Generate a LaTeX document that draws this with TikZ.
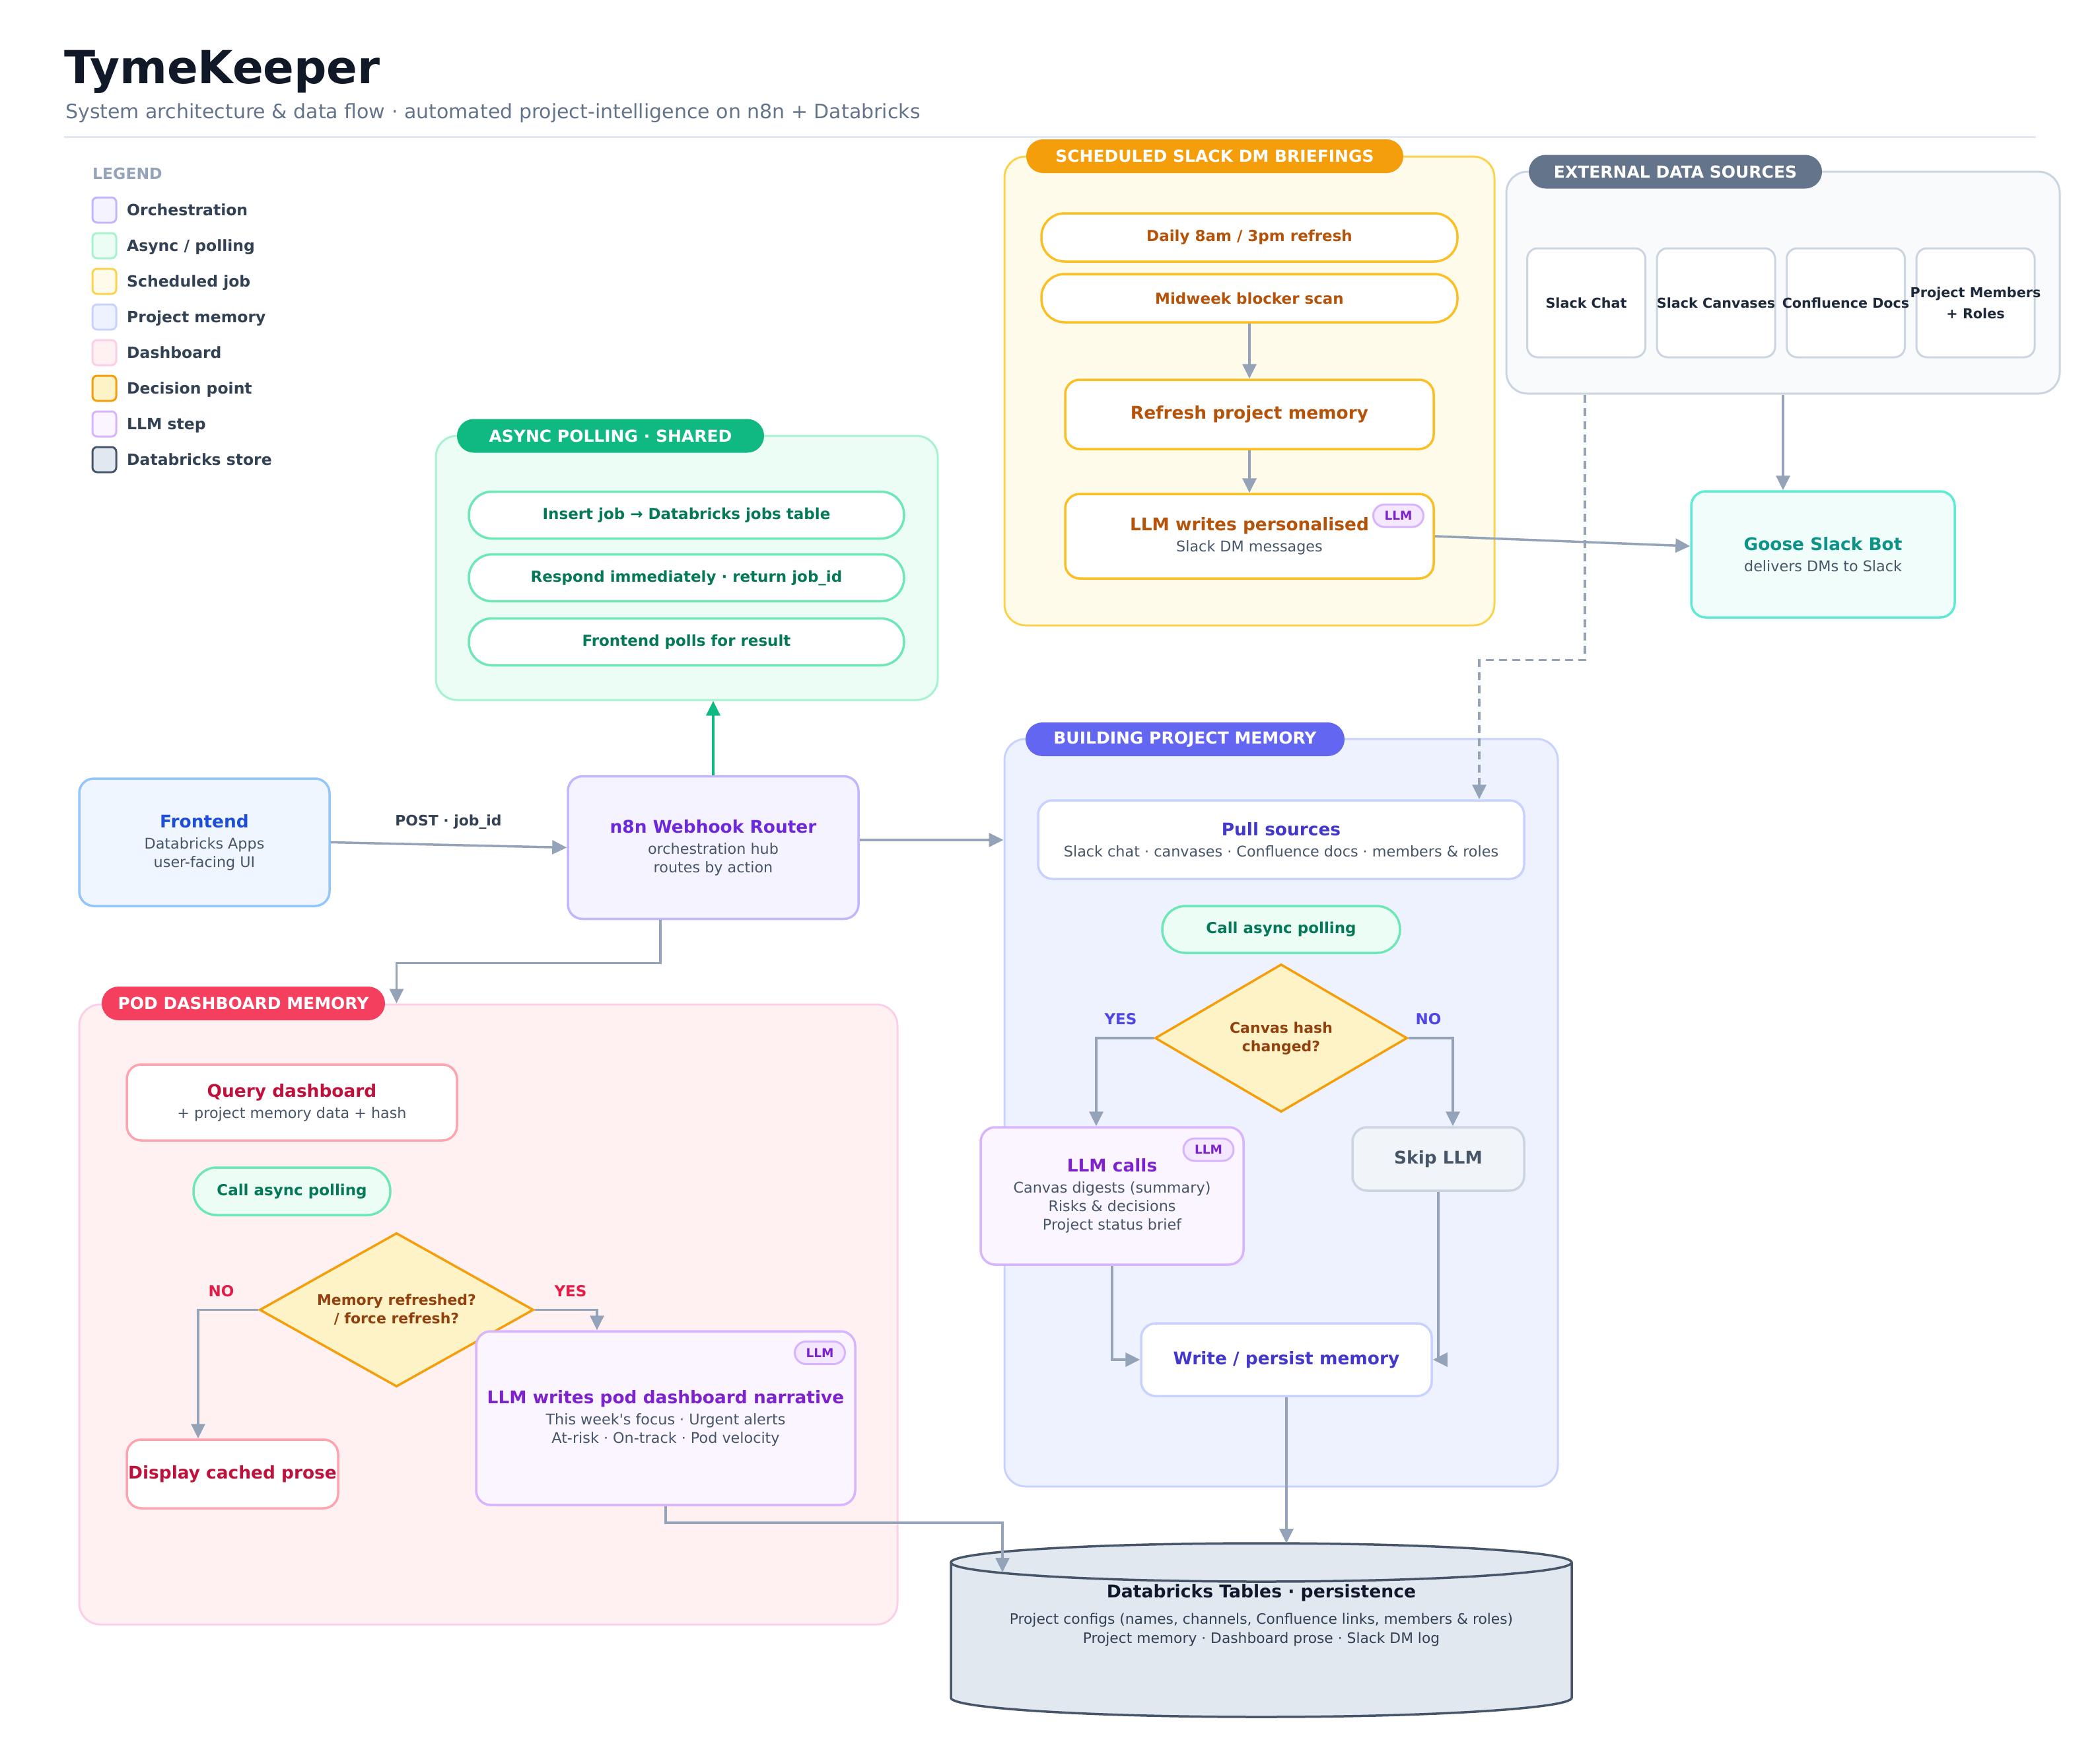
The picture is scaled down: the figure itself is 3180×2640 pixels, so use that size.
\documentclass[tikz,border=0pt]{standalone}
\usepackage{fontspec}
\setmainfont{DejaVu Sans}
\usepackage{xcolor}
\usetikzlibrary{arrows.meta,shapes.geometric,positioning}

\definecolor{lineGray}{HTML}{94A3B8}
\definecolor{titleInk}{HTML}{111827}
\definecolor{leadGray}{HTML}{64748B}
\definecolor{ruleGray}{HTML}{E2E8F0}
\definecolor{legendInk}{HTML}{334155}
\definecolor{bodyGray}{HTML}{475569}
\definecolor{orchFill}{HTML}{F5F3FF}
\definecolor{orchLine}{HTML}{C4B5FD}
\definecolor{orchText}{HTML}{6D28D9}
\definecolor{feFill}{HTML}{EFF6FF}
\definecolor{feLine}{HTML}{93C5FD}
\definecolor{feText}{HTML}{1D4ED8}
\definecolor{asyncFill}{HTML}{ECFDF5}
\definecolor{asyncLine}{HTML}{A7F3D0}
\definecolor{asyncPill}{HTML}{6EE7B7}
\definecolor{asyncText}{HTML}{047857}
\definecolor{asyncHead}{HTML}{10B981}
\definecolor{schedFill}{HTML}{FEFBEA}
\definecolor{schedLine}{HTML}{FCD34D}
\definecolor{schedBox}{HTML}{FBBF24}
\definecolor{schedText}{HTML}{B45309}
\definecolor{schedHead}{HTML}{F59E0B}
\definecolor{extFill}{HTML}{F8FAFC}
\definecolor{extLine}{HTML}{CBD5E1}
\definecolor{extHead}{HTML}{64748B}
\definecolor{srcText}{HTML}{1E293B}
\definecolor{gooseFill}{HTML}{F0FDFA}
\definecolor{gooseLine}{HTML}{5EEAD4}
\definecolor{gooseText}{HTML}{0D9488}
\definecolor{memFill}{HTML}{EEF2FF}
\definecolor{memLine}{HTML}{C7D2FE}
\definecolor{memText}{HTML}{4338CA}
\definecolor{memHead}{HTML}{6366F1}
\definecolor{memYes}{HTML}{4F46E5}
\definecolor{podFill}{HTML}{FFF1F2}
\definecolor{podLine}{HTML}{FBCFE8}
\definecolor{podBox}{HTML}{FDA4AF}
\definecolor{podText}{HTML}{BE123C}
\definecolor{podHead}{HTML}{F43F5E}
\definecolor{podYes}{HTML}{E11D48}
\definecolor{decFill}{HTML}{FEF3C7}
\definecolor{decLine}{HTML}{F59E0B}
\definecolor{decText}{HTML}{92400E}
\definecolor{llmFill}{HTML}{FAF5FF}
\definecolor{llmLine}{HTML}{D8B4FE}
\definecolor{llmText}{HTML}{7E22CE}
\definecolor{badgeFill}{HTML}{F3E8FF}
\definecolor{skipFill}{HTML}{F1F5F9}
\definecolor{dbFill}{HTML}{E2E8F0}
\definecolor{dbLine}{HTML}{475569}
\definecolor{dbInk}{HTML}{0F172A}

\newcommand{\titlefont}{\fontsize{69}{80}\selectfont\bfseries}
\newcommand{\leadfont}{\fontsize{30}{36}\selectfont}
\newcommand{\hdrfont}{\fontsize{25}{30}\selectfont\bfseries}
\newcommand{\bodyfont}{\fontsize{22.3}{28}\selectfont}
\newcommand{\pillfont}{\fontsize{23}{28}\selectfont\bfseries}
\newcommand{\legfont}{\fontsize{23.5}{28}\selectfont\bfseries}
\newcommand{\srcfont}{\fontsize{20.7}{32}\selectfont\bfseries}
\newcommand{\decfont}{\fontsize{22}{28}\selectfont\bfseries}
\newcommand{\badgefont}{\fontsize{18.5}{22}\selectfont\bfseries}
\newcommand{\cardttl}[1]{{\fontsize{26.4}{30}\selectfont\bfseries #1}}
\newcommand{\cardsub}[1]{{\color{bodyGray}#1}}

\tikzset{
 grp/.style={draw, line width=3pt, rounded corners=32pt, inner sep=0pt},
 hdr/.style={rounded corners=25.5pt, minimum height=51pt, inner sep=0pt,
  text=white, font=\hdrfont},
 card/.style={draw, line width=3.5pt, rounded corners=22pt, inner sep=0pt,
  align=center, font=\bodyfont},
 pill/.style={draw, line width=3.5pt, rounded corners=35pt, inner sep=0pt,
  font=\pillfont},
 badge/.style={draw=llmLine, fill=badgeFill, line width=3pt, rounded corners=17pt,
  minimum width=76pt, minimum height=34pt, inner sep=0pt, text=llmText, font=\badgefont},
 srcbox/.style={draw=extLine, fill=white, line width=3pt, rounded corners=16pt,
  minimum width=179pt, minimum height=165pt, inner ysep=0pt, inner xsep=-12pt,
  align=center, text=srcText, font=\srcfont},
 dec/.style={diamond, draw=decLine, fill=decFill, line width=3.5pt, inner sep=0pt,
  aspect=1.7, align=center, text=decText, font=\decfont},
 lgbox/.style={line width=3pt, rounded corners=7pt, minimum width=36pt,
  minimum height=38pt, inner sep=0pt},
 link/.style={draw=lineGray, line width=3.5pt, -{Triangle[length=22pt,width=21pt]}},
 dashline/.style={dash pattern=on 12pt off 8pt},
 branch/.style={font=\fontsize{23}{28}\selectfont\bfseries},
}

\begin{document}
\begin{tikzpicture}[x=1pt, y=-1pt]
        \useasboundingbox (0,0) rectangle (3180,2640);
        \fill[white] (0,0) rectangle (3180,2640);

        % heading
        \node[anchor=base west, inner sep=0pt, text=titleInk, font=\titlefont] (title) at (97,126) {TymeKeeper};
        \node[anchor=base west, inner sep=0pt, text=leadGray, font=\leadfont] (lead) at (99,179)
            {System architecture \& data flow · automated project-intelligence on n8n + Databricks};
        \draw[ruleGray, line width=3pt] (97,207) -- (3083,207);

        % legend
        \node[anchor=base west, inner sep=0pt, text=lineGray, font=\legfont] (legend) at (140,271) {LEGEND};
        \foreach \lbl/\lf/\ld [count=\i from 0] in {Orchestration/orchFill/orchLine,
            {Async / polling}/asyncFill/asyncLine, Scheduled job/schedFill/schedLine,
            Project memory/memFill/memLine, Dashboard/podFill/podLine,
            Decision point/decFill/decLine, LLM step/llmFill/llmLine,
            Databricks store/dbFill/dbLine}{
            \node[lgbox, fill=\lf, draw=\ld] (lgbox\i) at (158,{318+54*\i}) {};
            \node[anchor=base west, inner sep=0pt, text=legendInk, font=\legfont] (lgtxt\i) at (192,{326.5+54*\i}) {\lbl};
        }

        % groups
        \node[grp, fill=asyncFill, draw=asyncLine, minimum width=760pt, minimum height=400pt] (async) at (1040,860) {};
        \node[hdr, fill=asyncHead, minimum width=465pt] (asynchdr) at (924.5,660) {ASYNC POLLING · SHARED};
        \node[grp, fill=schedFill, draw=schedLine, minimum width=742pt, minimum height=710pt] (sched) at (1892,592) {};
        \node[hdr, fill=schedHead, minimum width=571pt] (schedhdr) at (1839.5,236.5) {SCHEDULED SLACK DM BRIEFINGS};
        \node[grp, fill=extFill, draw=extLine, minimum width=838pt, minimum height=336pt] (ext) at (2700,428) {};
        \node[hdr, fill=extHead, minimum width=444pt] (exthdr) at (2537,260) {EXTERNAL DATA SOURCES};
        \node[grp, fill=memFill, draw=memLine, minimum width=838pt, minimum height=1132pt] (build) at (1940,1685) {};
        \node[hdr, fill=memHead, minimum width=483pt] (buildhdr) at (1794.5,1119.5) {BUILDING PROJECT MEMORY};
        \node[grp, fill=podFill, draw=podLine, minimum width=1239pt, minimum height=939pt] (pod) at (739.5,1990.5) {};
        \node[hdr, fill=podHead, minimum width=429pt] (podhdr) at (368.5,1519.5) {POD DASHBOARD MEMORY};

        % entry
        \node[card, fill=feFill, draw=feLine, text=feText, minimum width=379pt, minimum height=193pt] (frontend) at (309.5,1275.5)
            {\cardttl{Frontend}\\[4pt]\cardsub{Databricks Apps}\\\cardsub{user-facing UI}};
        \node[card, fill=orchFill, draw=orchLine, text=orchText, minimum width=440pt, minimum height=216pt] (router) at (1080,1283.5)
            {\cardttl{n8n Webhook Router}\\[4pt]\cardsub{orchestration hub}\\\cardsub{routes by action}};
        \node[inner sep=0pt, text=legendInk, font=\fontsize{21.9}{26}\selectfont\bfseries] (postlbl) at (679,1245) {POST · job\_id};

        % async polling
        \node[pill, fill=white, draw=asyncPill, text=asyncText, minimum width=659pt, minimum height=71pt] (insjob) at (1039.5,780) {Insert job → Databricks jobs table};
        \node[pill, fill=white, draw=asyncPill, text=asyncText, minimum width=659pt, minimum height=71pt] (respond) at (1039.5,875) {Respond immediately · return job\_id};
        \node[pill, fill=white, draw=asyncPill, text=asyncText, minimum width=659pt, minimum height=71pt] (polls) at (1039.5,972) {Frontend polls for result};

        % scheduled briefings
        \node[pill, fill=white, draw=schedBox, text=schedText, minimum width=630pt, minimum height=73pt] (daily) at (1892,359.5) {Daily 8am / 3pm refresh};
        \node[pill, fill=white, draw=schedBox, text=schedText, minimum width=630pt, minimum height=73pt] (midweek) at (1892,451.5) {Midweek blocker scan};
        \node[card, fill=white, draw=schedBox, text=schedText, minimum width=558pt, minimum height=105pt] (refresh) at (1892,627.5) {\cardttl{Refresh project memory}};
        \node[card, fill=white, draw=schedBox, text=schedText, minimum width=558pt, minimum height=128pt] (llmdm) at (1892,812)
            {\cardttl{LLM writes personalised}\\[4pt]\cardsub{Slack DM messages}};
        \node[badge] (dmbadge) at (2117.5,781) {LLM};

        % external sources
        \foreach \s/\nm [count=\i from 0] in {Slack Chat/chat, Slack Canvases/canv, Confluence Docs/conf, {Project Members\\+ Roles}/memb}{
            \node[srcbox] (\nm) at ({2402+196.5*\i},458.5) {\s};
        }
        \node[card, fill=gooseFill, draw=gooseLine, text=gooseText, minimum width=399pt, minimum height=191pt] (goose) at (2760.5,839.5)
            {\cardttl{Goose Slack Bot}\\[4pt]\cardsub{delivers DMs to Slack}};

        % building project memory
        \node[card, fill=white, draw=memLine, text=memText, minimum width=736pt, minimum height=119pt] (pull) at (1940,1271.5)
            {\cardttl{Pull sources}\\[4pt]\cardsub{Slack chat · canvases · Confluence docs · members \& roles}};
        \node[pill, fill=asyncFill, draw=asyncPill, text=asyncText, minimum width=360pt, minimum height=71pt] (bpoll) at (1940,1407.5) {Call async polling};
        \node[dec, minimum width=382pt, minimum height=224pt] (bdec) at (1940,1572) {Canvas hash\\changed?};
        \node[card, fill=llmFill, draw=llmLine, text=llmText, minimum width=398pt, minimum height=208pt] (llmcalls) at (1684,1811)
            {\cardttl{LLM calls}\\[4pt]\cardsub{Canvas digests (summary)}\\\cardsub{Risks \& decisions}\\\cardsub{Project status brief}};
        \node[badge] (callbadge) at (1830,1741) {LLM};
        \node[card, fill=skipFill, draw=extLine, text=bodyGray, minimum width=260pt, minimum height=96pt] (skip) at (2178,1755) {\cardttl{Skip LLM}};
        \node[card, fill=white, draw=memLine, text=memText, minimum width=440pt, minimum height=110pt] (write) at (1948,2059) {\cardttl{Write / persist memory}};
        \node[branch, text=memYes] (byes) at (1697,1543) {YES};
        \node[branch, text=memYes] (bno) at (2163,1543) {NO};

        % pod dashboard
        \node[card, fill=white, draw=podBox, text=podText, minimum width=500pt, minimum height=115pt] (query) at (442,1669.5)
            {\cardttl{Query dashboard}\\[4pt]\cardsub{+ project memory data + hash}};
        \node[pill, fill=asyncFill, draw=asyncPill, text=asyncText, minimum width=298pt, minimum height=72pt] (ppoll) at (442,1804) {Call async polling};
        \node[dec, minimum width=415pt, minimum height=233pt] (pdec) at (600.5,1983.5) {Memory refreshed?\\/ force refresh?};
        \node[card, fill=white, draw=podBox, text=podText, minimum width=320pt, minimum height=104pt] (display) at (352,2232) {\cardttl{Display cached prose}};
        \node[card, fill=llmFill, draw=llmLine, text=llmText, minimum width=574pt, minimum height=263pt] (llmpod) at (1008,2147.5)
            {\cardttl{LLM writes pod dashboard narrative}\\[4pt]\cardsub{This week\textquotesingle s focus · Urgent alerts}\\\cardsub{At-risk · On-track · Pod velocity}};
        \node[badge] (podbadge) at (1241.5,2048.5) {LLM};
        \node[branch, text=podYes] (pno) at (335,1955) {NO};
        \node[branch, text=podYes] (pyes) at (864,1955) {YES};

        % databricks store
        \filldraw[fill=dbFill, draw=dbLine, line width=3.5pt] (1440,2366) -- (1440,2571)
            arc[start angle=180, end angle=0, x radius=470, y radius=29] -- (2380,2366)
            arc[start angle=0, end angle=-180, x radius=470, y radius=29] -- cycle;
        \draw[dbLine, line width=3.5pt] (1440,2366) arc[start angle=180, end angle=0, x radius=470, y radius=29];
        \coordinate (dbtop) at (1947,2337);
        \coordinate (dbrim) at (1518,2381);
        \node[text=dbInk, font=\fontsize{26.6}{30}\selectfont\bfseries] (dbttl) at (1910,2412) {Databricks Tables · persistence};
        \node[align=center, text=legendInk, font=\fontsize{21.8}{29}\selectfont] (dbsub) at (1910,2467.5)
            {Project configs (names, channels, Confluence links, members \& roles)\\Project memory · Dashboard prose · Slack DM log};

        % connectors
        \draw[link] (frontend.east) -- (router.west);
        \draw[link, draw=asyncHead] (router.north) -- (router.north |- async.south);
        \draw[link] ([yshift=11.5pt]router.east) -- ([yshift=11.5pt]router.east -| build.west);
        \draw[link] ([xshift=-80pt]router.south) |- ([yshift=61pt]pod.north -| pdec.north) -- (pod.north -| pdec.north);
        \draw[link] (midweek.south) -- (refresh.north);
        \draw[link] (refresh.south) -- (llmdm.north);
        \draw[link] (llmdm.east) -- ([yshift=12.5pt]goose.west);
        \draw[link] (ext.south) -- (ext.south |- goose.north);
        \draw[link, dashline] ([xshift=-300pt]ext.south) -- ++(0,402) -| ([xshift=300pt]pull.north);
        \draw[link] (bdec.west) -| ([xshift=-24pt]llmcalls.north);
        \draw[link] (bdec.east) -| ([xshift=22pt]skip.north);
        \draw[link] (llmcalls.south) |- (write.west);
        \draw[link] (skip.south) |- (write.east);
        \draw[link] (write.south) -- (write.south |- dbtop);
        \draw[link] (pdec.west) -| ([xshift=-52pt]display.north);
        \draw[link] (pdec.east) -| ([xshift=-104pt]llmpod.north);
        \draw[link] (llmpod.south) -- ++(0,25) -| (dbrim);
\end{tikzpicture}
\end{document}
